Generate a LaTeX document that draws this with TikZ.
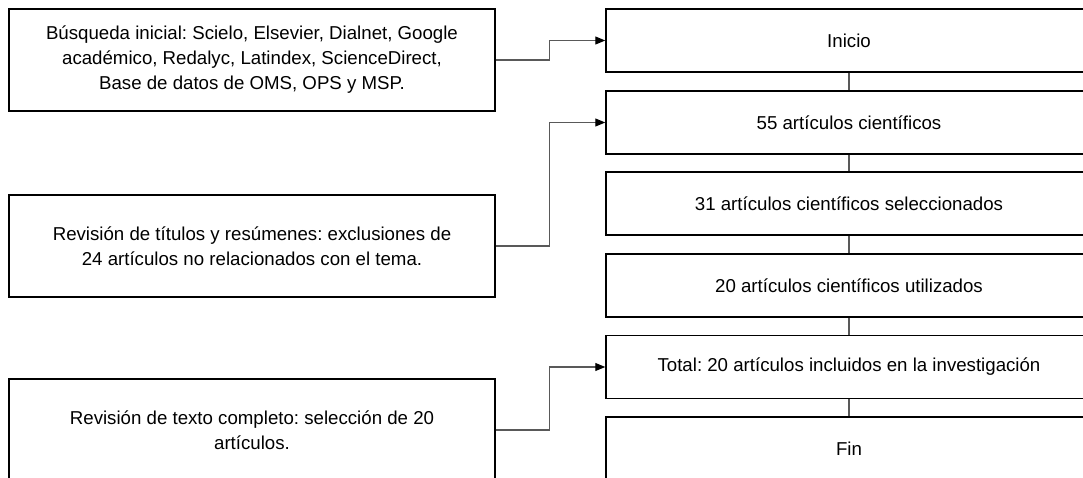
\documentclass[tikz,border=0pt]{standalone}
\usepackage{fontspec}
\setmainfont{Liberation Sans}
\frenchspacing
\usetikzlibrary{arrows.meta}

\begin{document}
\begin{tikzpicture}[x=0.75pt, y=-0.75pt,
  paso/.style={draw, black, line width=1.1pt, minimum width=364.5pt, minimum height=47.25pt, inner sep=0pt, font=\fontsize{14}{18.75}\selectfont},
  fuente/.style={draw, black, line width=1.1pt, minimum width=364.5pt, minimum height=76.5pt, inner sep=0pt, align=center, font=\fontsize{14}{18.75}\selectfont},
  conn/.style={draw=black!65, line width=0.8pt},
  flecha/.style={conn, -{Triangle[length=7.5pt, width=6pt, black]}}]
\useasboundingbox (0,0) rectangle (1083,478);
\clip (0,0) rectangle (1083,478);
\fill[white] (0,0) rectangle (1083,478);
% columna derecha
\node [paso] (inicio) at (849, 40.5) {Inicio};
\node [paso] (art55) at (849, 122.5) {55 artículos científicos};
\node [paso] (art31) at (849, 203.5) {31 artículos científicos seleccionados};
\node [paso] (art20) at (849, 285.5) {20 artículos científicos utilizados};
\node [paso] (total) at (849, 367) {Total: 20 artículos incluidos en la investigación};
\node [paso] (fin) at (849, 448.5) {Fin};
% columna izquierda
\node [fuente] (busqueda) at (252, 60) {Búsqueda inicial: Scielo, Elsevier, Dialnet, Google\\ académico, Redalyc, Latindex, ScienceDirect,\\ Base de datos de OMS, OPS y MSP.};
\node [fuente] (titulos) at (252, 246) {Revisión de títulos y resúmenes: exclusiones de\\ 24 artículos no relacionados con el tema.};
\node [fuente] (texto) at (252, 430) {Revisión de texto completo: selección de 20\\ artículos.};
% uniones
\draw [conn] (inicio) -- (art55);
\draw [conn] (art55) -- (art31);
\draw [conn] (art31) -- (art20);
\draw [conn] (art20) -- (total);
\draw [conn] (total) -- (fin);
\draw [flecha] (busqueda.east) -- ++(54,0) |- (inicio.west);
\draw [flecha] (titulos.east) -- ++(54,0) |- (art55.west);
\draw [flecha] (texto.east) -- ++(54,0) |- (total.west);
\end{tikzpicture}
\end{document}
